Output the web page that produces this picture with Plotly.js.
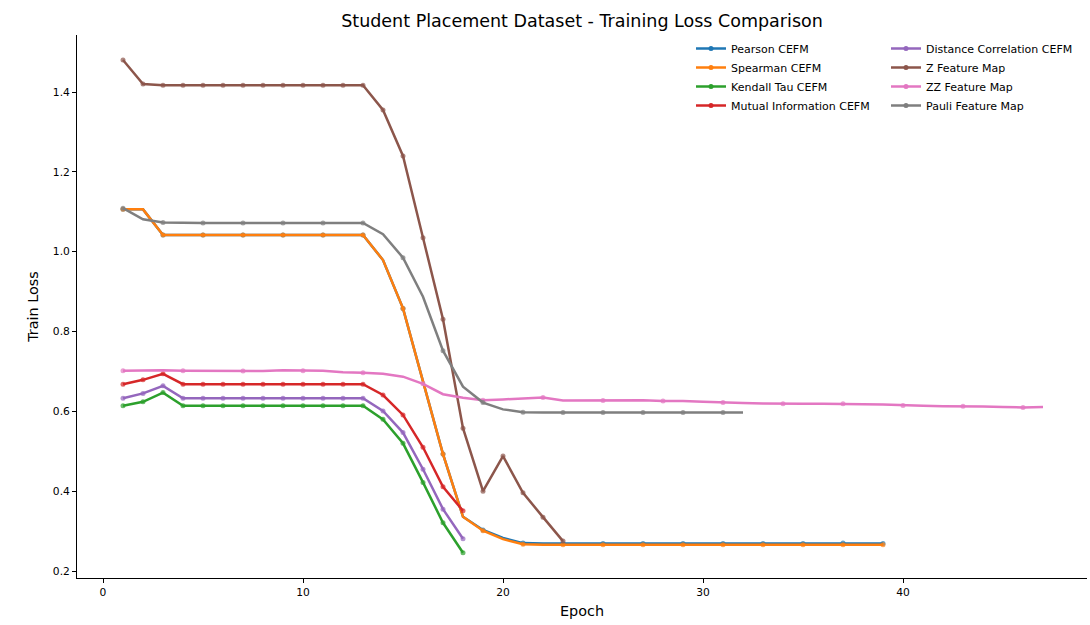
<!DOCTYPE html>
<html>
<head>
<meta charset="utf-8">
<script src="https://cdn.plot.ly/plotly-3.0.1.min.js"></script>
<style>html,body{margin:0;padding:0;background:#fff;}#chart{width:1090px;height:625px;}</style>
</head>
<body>
<div id="chart"></div>
<script>
const epochs = [1,2,3,4,5,6,7,8,9,10,11,12,13,14,15,16,17,18,19,20,21,22,23,24,25,26,27,28,29,30,31,32,33,34,35,36,37,38,39,40,41,42,43,44,45,46,47];

const seriesNames = ["Pearson CEFM","Spearman CEFM","Kendall Tau CEFM","Mutual Information CEFM","Distance Correlation CEFM","Z Feature Map","ZZ Feature Map","Pauli Feature Map"];

const pearson = [1.106,1.106,1.042,1.042,1.042,1.042,1.042,1.042,1.042,1.042,1.042,1.042,1.042,0.979,0.858,0.675,0.493,0.336,0.303,0.283,0.270,0.269,0.269,0.269,0.269,0.269,0.269,0.269,0.269,0.269,0.269,0.269,0.269,0.269,0.269,0.269,0.270,0.269,0.269];
const spearman = [1.106,1.106,1.042,1.042,1.042,1.042,1.042,1.042,1.042,1.042,1.042,1.042,1.042,0.979,0.858,0.675,0.493,0.336,0.301,0.280,0.267,0.266,0.266,0.266,0.266,0.266,0.266,0.266,0.266,0.266,0.266,0.266,0.266,0.266,0.266,0.266,0.266,0.266,0.266];
const kendall = [0.614,0.624,0.647,0.614,0.614,0.614,0.614,0.614,0.614,0.614,0.614,0.614,0.614,0.580,0.520,0.422,0.321,0.246];
const mutualInfo = [0.668,0.679,0.694,0.668,0.668,0.668,0.668,0.668,0.668,0.668,0.668,0.668,0.668,0.641,0.591,0.510,0.411,0.351];
const distanceCorr = [0.633,0.645,0.664,0.633,0.633,0.633,0.633,0.633,0.633,0.633,0.633,0.633,0.633,0.601,0.547,0.455,0.355,0.281];
const zMap = [1.480,1.420,1.417,1.417,1.417,1.417,1.417,1.417,1.417,1.417,1.417,1.417,1.417,1.355,1.240,1.035,0.831,0.558,0.400,0.488,0.396,0.335,0.275];
const zzMap = [0.702,0.703,0.703,0.702,0.702,0.701,0.701,0.701,0.703,0.702,0.702,0.698,0.697,0.694,0.687,0.669,0.643,0.634,0.628,0.630,0.632,0.635,0.627,0.627,0.627,0.628,0.628,0.626,0.626,0.624,0.622,0.621,0.620,0.619,0.619,0.619,0.619,0.618,0.617,0.615,0.614,0.613,0.613,0.612,0.611,0.610,0.611];
const pauliMap = [1.109,1.081,1.073,1.072,1.072,1.072,1.072,1.072,1.072,1.072,1.072,1.072,1.072,1.044,0.985,0.887,0.752,0.662,0.622,0.605,0.598,0.597,0.597,0.597,0.597,0.597,0.597,0.597,0.597,0.597,0.597,0.597];

const seriesValues = [pearson, spearman, kendall, mutualInfo, distanceCorr, zMap, zzMap, pauliMap];

// styles
const colors = ["#1f77b4","#ff7f0e","#2ca02c","#d62728","#9467bd","#8c564b","#e377c2","#7f7f7f"];
const markEvery = [2,2,1,1,1,1,3,2];
const legendOf = ["legend","legend","legend","legend","legend2","legend2","legend2","legend2"];
const MS = 5;

const dataTraces = seriesValues.map((vals, i) => ({
  type: "scatter",
  mode: "lines+markers",
  name: seriesNames[i],
  showlegend: false,
  x: epochs.slice(0, vals.length),
  y: vals,
  line: {color: colors[i], width: 2.5},
  marker: {
    color: colors[i],
    size: vals.map((v, k) => (k % markEvery[i] === 0 ? MS : 0)),
    line: {width: 0, color: colors[i]}
  },
  hoverinfo: "x+y+name"
}));

// legend entries (no data drawn)
const legendTraces = seriesNames.map((nm, i) => ({
  type: "scatter",
  mode: "lines+markers",
  name: nm,
  showlegend: true,
  x: [null],
  y: [null],
  line: {color: colors[i], width: 2.5},
  marker: {color: colors[i], size: MS, line: {width: 0}},
  legend: legendOf[i],
  legendrank: i + 1,
  hoverinfo: "skip"
}));

const tickFont = {family: "DejaVu Sans, sans-serif", size: 10.7, color: "#000"};
const legendFont = {family: "DejaVu Sans, sans-serif", size: 11, color: "#000"};

const layout = {
  width: 1090,
  height: 625,
  paper_bgcolor: "#fff",
  plot_bgcolor: "#fff",
  margin: {l: 77, r: 3, t: 35, b: 47},
  font: {family: "DejaVu Sans, sans-serif", color: "#000"},
  title: {
    text: "Student Placement Dataset - Training Loss Comparison",
    font: {family: "DejaVu Sans, sans-serif", size: 17.5, color: "#000"},
    x: 0.5, xref: "paper", xanchor: "center",
    y: 1 - 21/625, yref: "container", yanchor: "middle"
  },
  xaxis: {
    range: [-1.3, 49.2],
    tickvals: [0,10,20,30,40],
    ticks: "outside", ticklen: 4, tickwidth: 1, tickcolor: "#000",
    showline: true, linecolor: "#000", linewidth: 1,
    showgrid: false, zeroline: false,
    tickfont: tickFont,
    title: {text: "Epoch", font: {family: "DejaVu Sans, sans-serif", size: 14.4, color: "#000"}, standoff: 8}
  },
  yaxis: {
    range: [0.1826, 1.5428],
    tickvals: [0.2,0.4,0.6,0.8,1.0,1.2,1.4],
    tickformat: ".1f",
    ticks: "outside", ticklen: 4, tickwidth: 1, tickcolor: "#000",
    showline: true, linecolor: "#000", linewidth: 1,
    showgrid: false, zeroline: false,
    tickfont: tickFont,
    title: {text: "Train Loss", font: {family: "DejaVu Sans, sans-serif", size: 14.4, color: "#000"}, standoff: 10}
  },
  legend: {
    x: (691 - 77) / 1010, xref: "paper", xanchor: "left",
    y: 1 + 1 / 543, yref: "paper", yanchor: "top",
    bgcolor: "rgba(255,255,255,0.8)", borderwidth: 0,
    font: legendFont, itemwidth: 30, tracegroupgap: 0
  },
  legend2: {
    x: (886 - 77) / 1010, xref: "paper", xanchor: "left",
    y: 1 + 1 / 543, yref: "paper", yanchor: "top",
    bgcolor: "rgba(255,255,255,0.8)", borderwidth: 0,
    font: legendFont, itemwidth: 30, tracegroupgap: 0
  },
  showlegend: true
};

Plotly.newPlot("chart", dataTraces.concat(legendTraces), layout, {displayModeBar: false, staticPlot: true});
</script>
</body>
</html>
